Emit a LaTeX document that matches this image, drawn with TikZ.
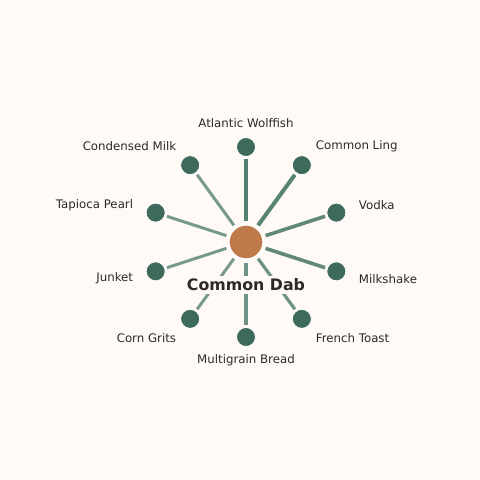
\documentclass[tikz,border=0pt]{standalone}
\usepackage{fontspec}
\setmainfont{DejaVu Sans}
\usetikzlibrary{positioning, calc}

\definecolor{paper}{HTML}{FFFAF6}
\definecolor{leafgreen}{HTML}{3E6A5B}
\definecolor{spokegreen}{HTML}{4A7A6A}
\definecolor{hubcopper}{HTML}{C07A4A}
\definecolor{inkdark}{HTML}{2D2A26}

\begin{document}
\begin{tikzpicture}[x=1pt, y=1pt,
  hub/.style={circle, fill=hubcopper, draw=white, line width=1.2pt, minimum size=34pt, inner sep=0pt},
  leaf/.style={circle, fill=leafgreen, draw=white, line width=0.8pt, minimum size=19pt, inner sep=0pt},
  leaflabel/.style={font=\fontsize{11.8}{13}\selectfont, text=inkdark, inner sep=0pt},
  spoke/.style={spokegreen, line cap=butt, shorten <=3pt, shorten >=2pt}
]
\fill[paper] (0,0) rectangle (480,480);
\useasboundingbox (0,0) rectangle (480,480);

\node[hub] (hub) at (246,238) {};

\foreach \ang/\name/\txt/\lw/\op/\anc in {
    90/wolffish/Atlantic Wolffish/4/0.95/center,
    54/ling/Common Ling/4/0.92/west,
    18/vodka/Vodka/3.6/0.88/west,
    -18/milkshake/Milkshake/3.6/0.88/west,
    -54/toast/French Toast/3.2/0.8/west,
    -90/bread/Multigrain Bread/3.2/0.8/center,
    -126/grits/Corn Grits/3/0.75/east,
    -162/junket/Junket/3/0.75/east,
    162/tapioca/Tapioca Pearl/3/0.75/east,
    126/milk/Condensed Milk/3/0.75/east} {
  \node[leaf] (\name) at ($(hub.center)+(\ang:95)$) {};
  \node[leaflabel, anchor=\anc] (\name-lbl) at ($(hub.center)+(\ang:118.5)$) {\txt};
  \draw[spoke, line width=\lw pt, draw opacity=\op] (hub) -- (\name);
}

% hub drawn again over the spokes
\node[hub] at (hub.center) {};

\node[fill=paper, inner xsep=2pt, inner ysep=3pt, font=\bfseries\fontsize{15.8}{18}\selectfont, text=inkdark,
  below=16pt of hub] (title) {Common Dab};

\end{tikzpicture}
\end{document}
